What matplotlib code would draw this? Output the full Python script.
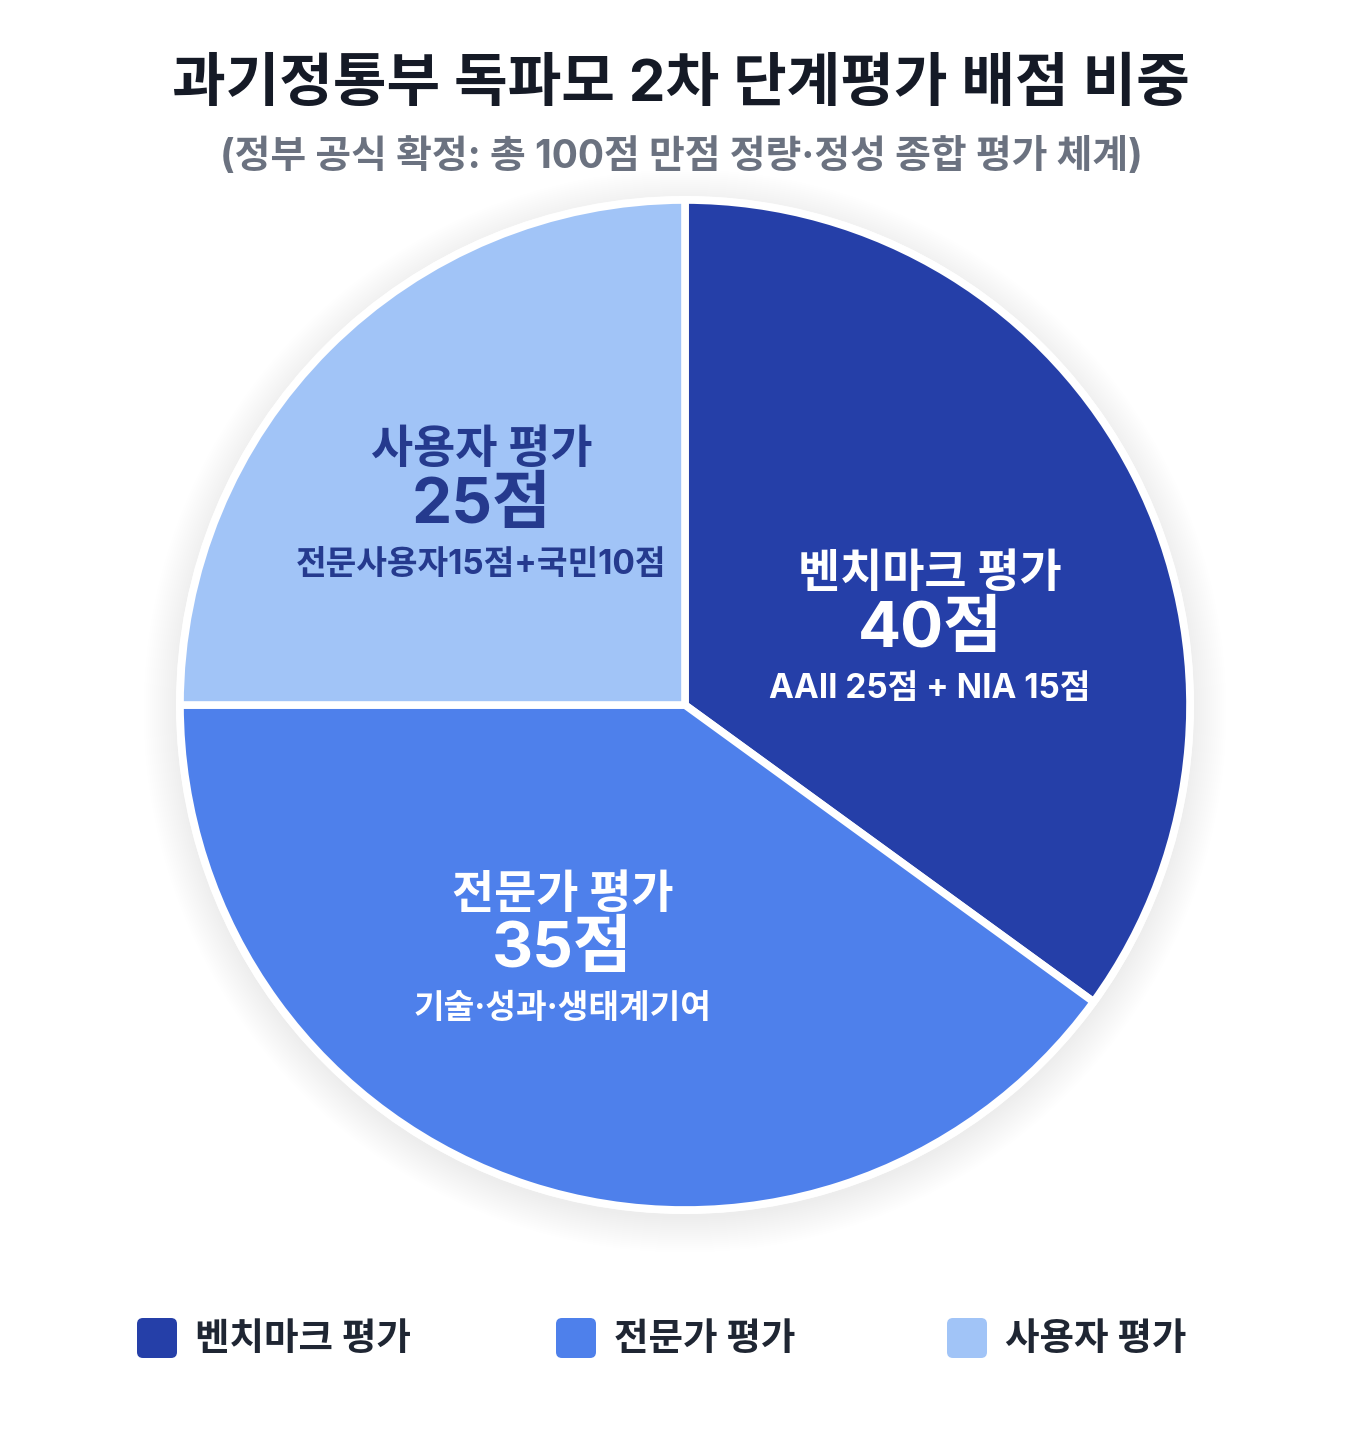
import matplotlib
matplotlib.use("Agg")
import matplotlib.pyplot as plt
from matplotlib.patches import FancyBboxPatch, Circle
import numpy as np

FONTS = ['Inter', 'Noto Sans CJK KR', 'DejaVu Sans']
plt.rcParams['font.family'] = FONTS

categories = ['벤치마크 평가', '전문가 평가', '사용자 평가']
points = [40, 35, 25]                 # points printed in the labels
slice_shares = [35, 40, 25]           # arc sizes as drawn in the reference
details = ['AAII 25점 + NIA 15점', '기술·성과·생태계기여', '전문사용자15점+국민10점']
colors = ['#253FA8', '#4E80EB', '#A1C4F7']
label_colors = ['white', 'white', '#253A8E']
title = '과기정통부 독파모 2차 단계평가 배점 비중'
subtitle = '(정부 공식 확정: 총 100점 만점 정량·정성 종합 평가 체계)'

W, H = 1362, 1436
fig = plt.figure(figsize=(W / 100, H / 100), dpi=100)
fig.patch.set_facecolor('white')

cx, cy, R = 685, 705, 505
ax = fig.add_axes([(cx - R) / W, (H - cy - R) / H, 2 * R / W, 2 * R / H])

# soft shadow
for i in range(18):
    r = 1.0 + 0.004 * (i + 1)
    ax.add_patch(Circle((0, -0.012), r, facecolor='#000000', alpha=0.0045, edgecolor='none',
                        zorder=0, clip_on=False))
ax.add_patch(Circle((0, 0), 1.008, facecolor='white', edgecolor='none', zorder=1, clip_on=False))

wedges, _ = ax.pie(slice_shares, colors=colors, startangle=90, counterclock=False, radius=1.0,
                   wedgeprops=dict(edgecolor='white', linewidth=5.5))
for w in wedges:
    w.set_zorder(2)
    w.set_clip_on(False)

ax.set_xlim(-1, 1)
ax.set_ylim(-1, 1)
ax.set_aspect('equal')
ax.axis('off')

# label anchor angles follow the point values (as in the reference)
total = float(sum(points))
cum = np.cumsum([0] + points)
label_r = [0.51, 0.535, 0.57]
for i, (cat, v, det, lc, lr) in enumerate(zip(categories, points, details, label_colors, label_r)):
    mid = 90 - 360 * (cum[i] + cum[i + 1]) / 2 / total
    ang = np.deg2rad(mid)
    x, y = lr * np.cos(ang), lr * np.sin(ang) - 0.008
    ax.text(x, y + 0.108, cat, ha='center', va='center', fontsize=33, fontweight='bold', color=lc, zorder=5)
    ax.text(x, y - 0.002, f'{v}점', ha='center', va='center', fontsize=46, fontweight='bold', color=lc, zorder=5)
    ax.text(x, y - 0.118, det, ha='center', va='center', fontsize=24, fontweight='bold', color=lc, zorder=5)

fig.text(0.5, 1 - 86 / H, title, ha='center', va='center', fontsize=42, fontweight='bold', color='#151A26')
fig.text(0.5, 1 - 157 / H, subtitle, ha='center', va='center', fontsize=28, fontweight='bold', color='#6B7280')

# legend
lax = fig.add_axes([0, 0, 1, 1])
lax.set_xlim(0, W)
lax.set_ylim(H, 0)
lax.axis('off')
leg_x = [137, 556, 947]
for x0, cat, c in zip(leg_x, categories, colors):
    lax.add_patch(FancyBboxPatch((x0 + 6, 1318 + 6), 28, 28, boxstyle='round,pad=6',
                                 facecolor=c, edgecolor='none'))
    lax.text(x0 + 58, 1340, cat, ha='left', va='center', fontsize=27, fontweight='bold', color='#1F2633')

fig.savefig('out.png', dpi=100, facecolor='white')
